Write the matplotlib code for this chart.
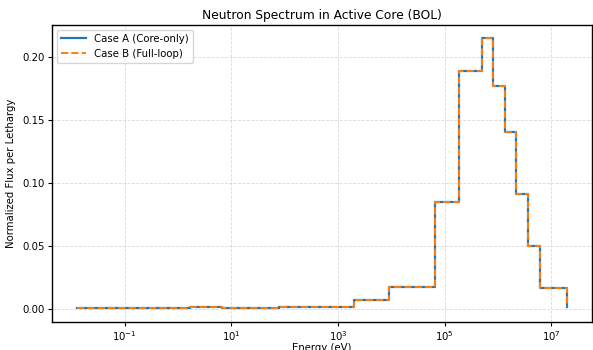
import numpy as np
import matplotlib
matplotlib.use("Agg")
import matplotlib.pyplot as plt
from matplotlib.ticker import NullLocator

# Group boundaries (eV), low to high
energy_edges = [1.26e-2, 1.7, 6.8, 80.0, 2.03e3, 9.12e3, 6.74e4, 1.83e5,
                4.98e5, 8.21e5, 1.35e6, 2.23e6, 3.68e6, 6.07e6, 2.0e7]

# Normalized flux per lethargy for each group (last value closes the step)
flux_core_only = [0.0002, 0.0012, 0.0006, 0.0014, 0.0068, 0.0170, 0.0847,
                  0.1888, 0.2145, 0.1770, 0.1400, 0.0909, 0.0500, 0.0165, 0.0010]
flux_full_loop = [0.0002, 0.0012, 0.0006, 0.0014, 0.0068, 0.0170, 0.0847,
                  0.1888, 0.2145, 0.1770, 0.1400, 0.0909, 0.0500, 0.0165, 0.0010]

x_ticks = [1e-1, 1e1, 1e3, 1e5, 1e7]


def plot_spectrum():
    fig = plt.figure(figsize=(5.93, 3.5), dpi=100)
    ax = fig.add_axes([0.088, 0.08, 0.91, 0.849])

    ax.step(energy_edges, flux_core_only, where="post", color="C0",
            linewidth=1.6, label="Case A (Core-only)")
    ax.step(energy_edges, flux_full_loop, where="post", color="C1",
            linestyle="--", linewidth=1.4, label="Case B (Full-loop)")

    ax.set_xscale("log")
    ax.set_xticks(x_ticks)
    ax.xaxis.set_minor_locator(NullLocator())
    ax.set_yticks([0.0, 0.05, 0.10, 0.15, 0.20])
    ax.tick_params(labelsize=7.3, width=0.8, length=3, pad=2.5)

    ax.set_title("Neutron Spectrum in Active Core (BOL)", fontsize=8.8, pad=4)
    ax.set_xlabel("Energy (eV)", fontsize=7.3, labelpad=0)
    ax.set_ylabel("Normalized Flux per Lethargy", fontsize=7.3, labelpad=4)
    ax.grid(True, linestyle="--", alpha=0.45, linewidth=0.6)
    ax.legend(loc="upper left", fontsize=7.3, handlelength=2.4)

    for spine in ax.spines.values():
        spine.set_linewidth(1.0)

    fig.savefig("out.png", dpi=100)


if __name__ == "__main__":
    plot_spectrum()
